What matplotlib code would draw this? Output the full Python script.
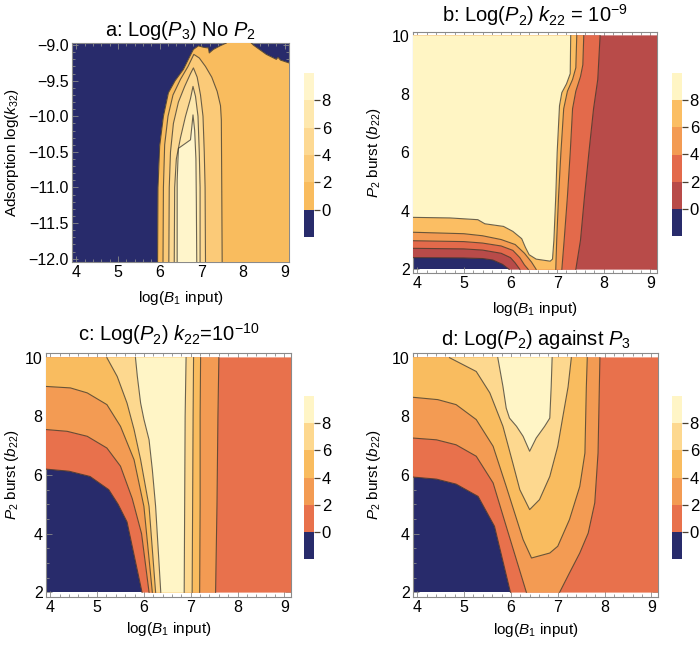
import matplotlib
matplotlib.use('Agg')
import matplotlib.pyplot as plt
from matplotlib.colors import ListedColormap, BoundaryNorm
from matplotlib.cm import ScalarMappable
from matplotlib.ticker import MultipleLocator, FixedLocator, FuncFormatter

plt.rcParams['font.family'] = ['Liberation Sans', 'DejaVu Sans']
plt.rcParams['mathtext.fontset'] = 'custom'
plt.rcParams['mathtext.rm'] = 'Liberation Sans'
plt.rcParams['mathtext.it'] = 'Liberation Sans:italic'
plt.rcParams['mathtext.bf'] = 'Liberation Sans:bold'

# ---------------- data: contour levels and colours ----------------
levels = [-2, 0, 2, 4, 6, 8, 10]
cbar_ticks = [0, 2, 4, 6, 8]
NAVY = '#282b6b'
colors_a = [NAVY, '#f9bc5e', '#fbca78', '#fdd993', '#fee8ae', '#fff5cb']
colors_b = [NAVY, '#b84b49', '#e36a4b', '#f39b53', '#fbbe63', '#fff5c4']
colors_c = [NAVY, '#e8714c', '#f39b53', '#f9bc5f', '#fdd88f', '#fff5c6']
colors_d = [NAVY, '#e8714c', '#f39b53', '#f9bc5f', '#fdd88f', '#fff5c6']

# ---------------- panel a: log(B1) vs log(k32) -------------------
a_c0l_x = [5.95, 5.96, 6.00, 6.09, 6.21, 6.37, 6.57, 6.73, 6.81, 6.93, 7.05, 7.17, 7.19, 7.29, 7.45, 7.60]
a_c0l_y = [-12.05, -11.0, -10.42, -10.0, -9.67, -9.50, -9.34, -9.15, -9.06, -9.01, -9.03, -9.04, -9.11, -9.06, -9.01, -8.97]
a_c0r_x = [8.20, 8.25, 8.56, 8.80, 8.84, 8.90, 9.104]
a_c0r_y = [-8.97, -9.00, -9.13, -9.20, -9.17, -9.21, -9.25]
a_c2_x = [6.08, 6.09, 6.12, 6.20, 6.32, 6.50, 6.68, 6.82, 6.95, 7.10, 7.25, 7.38, 7.46, 7.48, 7.49, 7.50]
a_c2_y = [-12.05, -11.0, -10.4, -10.0, -9.70, -9.48, -9.30, -9.13, -9.18, -9.30, -9.45, -9.65, -9.85, -10.05, -11.0, -12.05]
a_c4_x = [6.22, 6.23, 6.26, 6.33, 6.45, 6.60, 6.74, 6.81, 6.90, 6.98, 7.04, 7.07, 7.09, 7.10]
a_c4_y = [-12.05, -11.0, -10.5, -10.1, -9.80, -9.58, -9.40, -9.32, -9.45, -9.70, -10.0, -10.5, -11.0, -12.05]
a_c6_x = [6.35, 6.36, 6.40, 6.50, 6.62, 6.74, 6.80, 6.86, 6.92, 6.95, 6.97, 6.97]
a_c6_y = [-12.05, -11.0, -10.6, -10.3, -10.0, -9.75, -9.58, -9.72, -10.0, -10.5, -11.0, -12.05]
a_c8_x = [6.42, 6.42, 6.45, 6.62, 6.74, 6.78, 6.80, 6.84, 6.87, 6.88, 6.89]
a_c8_y = [-12.05, -10.9, -10.45, -10.38, -10.33, -10.10, -9.98, -10.2, -10.6, -11.2, -12.05]

# ---------------- panel b: k22 = 1e-9 ----------------------------
b_c0_x = [3.91, 5.00, 5.40, 5.62, 5.83, 5.97]
b_c0_y = [2.40, 2.39, 2.37, 2.32, 2.17, 2.00]
b_c2_x = [3.91, 5.00, 5.40, 5.80, 6.00, 6.10, 6.20]
b_c2_y = [2.72, 2.70, 2.66, 2.55, 2.40, 2.22, 2.00]
b_c4_x = [3.91, 5.00, 5.40, 5.80, 6.05, 6.20, 6.30, 6.38]
b_c4_y = [2.98, 2.95, 2.90, 2.80, 2.65, 2.40, 2.15, 2.00]
b_c6_x = [3.91, 5.00, 5.40, 5.80, 6.10, 6.30, 6.45, 6.55]
b_c6_y = [3.27, 3.22, 3.15, 3.02, 2.85, 2.55, 2.25, 2.00]
b_c8_x = [3.91, 4.70, 5.30, 5.45, 5.85, 6.05, 6.24, 6.32, 6.40, 6.55, 6.85, 6.90, 6.93, 6.97, 7.00, 7.05, 7.10, 7.20, 7.28, 7.29]
b_c8_y = [3.78, 3.76, 3.70, 3.56, 3.47, 3.30, 3.05, 2.75, 2.50, 2.35, 2.28, 2.35, 3.00, 4.50, 6.00, 7.60, 8.05, 8.35, 8.70, 10.0]
b_c6r_x = [6.97, 6.99, 7.03, 7.08, 7.14, 7.22, 7.33, 7.40, 7.42]
b_c6r_y = [2.0, 3.0, 4.5, 6.0, 7.5, 8.1, 8.5, 8.9, 10.0]
b_c4r_x = [7.10, 7.15, 7.22, 7.28, 7.33, 7.40, 7.50, 7.55, 7.57]
b_c4r_y = [2.0, 3.0, 4.5, 6.0, 7.5, 8.1, 8.6, 9.0, 10.0]
b_c2r_x = [7.40, 7.50, 7.58, 7.68, 7.78, 7.87, 7.92]
b_c2r_y = [2.0, 3.0, 4.4, 6.0, 7.5, 8.5, 10.0]

# ---------------- panel c: k22 = 1e-10 ---------------------------
c_c0_x = [3.91, 4.40, 4.85, 5.25, 5.45, 5.64, 5.96]
c_c0_y = [6.20, 6.13, 5.95, 5.50, 5.00, 4.40, 2.00]
c_c2_x = [3.91, 4.36, 4.79, 5.21, 5.50, 5.75, 5.95, 6.11]
c_c2_y = [7.55, 7.49, 7.32, 6.92, 6.30, 5.20, 4.00, 2.00]
c_c4_x = [3.91, 4.43, 4.79, 5.21, 5.50, 5.79, 6.00, 6.18]
c_c4_y = [9.02, 8.97, 8.80, 8.40, 7.66, 6.52, 4.93, 2.00]
c_c6_x = [5.21, 5.43, 5.64, 5.79, 5.93, 6.11, 6.25]
c_c6_y = [10.0, 9.36, 8.45, 7.55, 6.52, 4.93, 2.00]
c_c8_x = [5.82, 5.86, 5.93, 6.00, 6.11, 6.18, 6.25, 6.36]
c_c8_y = [10.0, 9.36, 8.45, 7.90, 7.20, 6.18, 4.93, 2.00]
c_c8r_x = [6.86, 6.87, 6.88, 6.90]
c_c8r_y = [2.0, 5.0, 8.0, 10.0]
c_c6r_x = [7.03, 7.04, 7.05, 7.06]
c_c6r_y = [2.0, 5.0, 8.0, 10.0]
c_c4r_x = [7.19, 7.20, 7.20, 7.21]
c_c4r_y = [2.0, 5.0, 8.0, 10.0]
c_c2r_x = [7.53, 7.56, 7.58, 7.60]
c_c2r_y = [2.0, 5.0, 8.0, 10.0]

# ---------------- panel d: against P3 ----------------------------
d_c0_x = [3.91, 4.41, 4.83, 5.30, 5.65, 5.99]
d_c0_y = [5.93, 5.86, 5.69, 5.27, 4.25, 2.00]
d_c2_x = [3.91, 4.41, 4.83, 5.26, 5.62, 5.90, 6.33]
d_c2_y = [7.26, 7.20, 7.03, 6.64, 5.73, 4.25, 2.00]
d_c2r_x = [7.04, 7.25, 7.47, 7.65, 7.79, 7.86, 7.90]
d_c2r_y = [2.00, 2.66, 3.34, 4.02, 5.05, 6.75, 10.0]
d_c4_x = [3.91, 4.44, 4.83, 5.26, 5.62, 5.90, 6.26, 6.44, 6.83, 7.00, 7.25, 7.47, 7.58, 7.61, 7.63]
d_c4_y = [8.65, 8.57, 8.40, 7.89, 6.98, 5.61, 3.80, 3.17, 3.34, 3.57, 4.48, 5.61, 6.75, 9.00, 10.0]
d_c6_x = [4.69, 5.26, 5.55, 5.83, 6.04, 6.19, 6.40, 6.61, 6.83, 7.00, 7.11, 7.22, 7.29]
d_c6_y = [10.0, 9.53, 8.80, 7.66, 6.41, 5.50, 4.82, 5.16, 5.95, 6.98, 8.00, 9.00, 10.0]
d_c8_x = [5.72, 5.83, 5.90, 5.97, 6.12, 6.26, 6.40, 6.54, 6.72, 6.83, 6.86, 6.88]
d_c8_y = [10.0, 9.02, 8.28, 7.94, 7.66, 7.32, 6.81, 7.26, 7.66, 7.94, 9.02, 10.0]

titles = [r'a: Log($P_{\mathrm{3}}$) No $P_{\mathrm{2}}$',
          r'b: Log($P_{\mathrm{2}}$) $k_{\mathrm{22}}$ = 10$^{\mathrm{-9}}$',
          r'c: Log($P_{\mathrm{2}}$) $k_{\mathrm{22}}$=10$^{\mathrm{-10}}$',
          r'd: Log($P_{\mathrm{2}}$) against $P_{\mathrm{3}}$']
xlabel = r'log($B_{\mathrm{1}}$ input)'
ylabel_a = r'Adsorption log($k_{\mathrm{32}}$)'
ylabel_b = r'$P_{\mathrm{2}}$ burst ($b_{\mathrm{22}}$)'
x_ticks = [4, 5, 6, 7, 8, 9]
y_ticks_a = [-12.0, -11.5, -11.0, -10.5, -10.0, -9.5, -9.0]
y_ticks_b = [2, 4, 6, 8, 10]

# ---------------- figure ----------------------------------------
fig = plt.figure(figsize=(7.0, 6.45), dpi=100)
W, H = 700.0, 645.0


def rect(l, t, r, b):
    return [l / W, 1 - b / H, (r - l) / W, (b - t) / H]


FRAME = '#8a8a8a'
LINE = '#3a352c'
LABEL_FS = 11.0
TITLE_FS = 14.5


def style_axes(ax, xlim, ylim, yticks, yminor, yfmt):
    ax.set_xlim(*xlim)
    ax.set_ylim(*ylim)
    ax.xaxis.set_major_locator(FixedLocator(x_ticks))
    ax.xaxis.set_minor_locator(MultipleLocator(0.2))
    ax.yaxis.set_major_locator(FixedLocator(yticks))
    ax.yaxis.set_minor_locator(MultipleLocator(yminor))
    ax.yaxis.set_major_formatter(FuncFormatter(yfmt))
    ax.xaxis.set_major_formatter(FuncFormatter(lambda v, p: '%d' % round(v)))
    ax.tick_params(which='both', direction='in', top=True, right=True,
                   color=FRAME, width=0.6, labelsize=11.5, labelcolor='black')
    ax.tick_params(which='major', length=4.0, pad=2.5)
    ax.tick_params(which='minor', length=2.0)
    for s in ax.spines.values():
        s.set_color(FRAME)
        s.set_linewidth(0.8)


def draw_panel(ax, colors, lines, fills, box):
    xlo, xhi, ylo, yhi = box
    corners = {'TL': (xlo, yhi), 'TR': (xhi, yhi), 'BR': (xhi, ylo), 'BL': (xlo, ylo)}
    ax.fill([xlo, xhi, xhi, xlo], [ylo, ylo, yhi, yhi], color=colors[0], lw=0, zorder=1)
    for idx, names, extra in fills:
        xs, ys = [], []
        for n in names:
            xs += list(lines[n][0])
            ys += list(lines[n][1])
        for e in extra:
            xs.append(corners[e][0])
            ys.append(corners[e][1])
        ax.fill(xs, ys, color=colors[idx], lw=0.3, ec=colors[idx], zorder=2 + idx)
    for n, (lx, ly) in lines.items():
        ax.plot(lx, ly, color=LINE, lw=0.8, alpha=0.75, zorder=20, solid_joinstyle='round')


def add_cbar(crect, colors):
    cax = fig.add_axes(crect)
    cmap = ListedColormap(colors)
    norm = BoundaryNorm(levels, cmap.N)
    cb = fig.colorbar(ScalarMappable(norm=norm, cmap=cmap), cax=cax, ticks=cbar_ticks)
    cb.minorticks_off()
    cb.outline.set_visible(False)
    cb.ax.set_yticklabels([str(t) for t in cbar_ticks])
    cax.tick_params(which='major', length=4, width=0.9, color='#4a4030', labelsize=12, pad=1.5)
    cax.tick_params(which='minor', length=0)
    return cb


def fmt1(v, p):
    return ('%.1f' % v).replace('-', '\u2212')


def fmt0(v, p):
    return '%d' % round(v)


# panel a
ax = fig.add_axes(rect(72, 43, 289, 262))
style_axes(ax, (3.896, 9.104), (-12.047, -8.97), y_ticks_a, 0.1, fmt1)
lines_a = {'c0l': (a_c0l_x, a_c0l_y), 'c0r': (a_c0r_x, a_c0r_y), 'c2': (a_c2_x, a_c2_y),
           'c4': (a_c4_x, a_c4_y), 'c6': (a_c6_x, a_c6_y), 'c8': (a_c8_x, a_c8_y)}
fills_a = [(1, ['c0l', 'c0r'], ['BR']), (2, ['c2'], []), (3, ['c4'], []),
           (4, ['c6'], []), (5, ['c8'], [])]
draw_panel(ax, colors_a, lines_a, fills_a, (3.896, 9.104, -12.05, -8.97))
ax.set_title(titles[0], fontsize=TITLE_FS, pad=5)
ax.set_xlabel(xlabel, fontsize=LABEL_FS)
ax.set_ylabel(ylabel_a, fontsize=LABEL_FS)
ax.xaxis.set_label_coords(0.5, -0.125)
ax.yaxis.set_label_coords(-0.236, 0.5)
add_cbar(rect(304, 73, 314, 237), colors_a)

box_bcd = (3.91, 9.14, 2.0, 10.0)

# panel b
ax = fig.add_axes(rect(413, 32, 657, 273))
style_axes(ax, (3.91, 9.14), (1.875, 10.125), y_ticks_b, 0.5, fmt0)
lines_b = {'c0': (b_c0_x, b_c0_y), 'c2': (b_c2_x, b_c2_y), 'c4': (b_c4_x, b_c4_y),
           'c6': (b_c6_x, b_c6_y), 'c8': (b_c8_x, b_c8_y), 'c6r': (b_c6r_x, b_c6r_y),
           'c4r': (b_c4r_x, b_c4r_y), 'c2r': (b_c2r_x, b_c2r_y)}
fills_b = [(1, ['c0'], ['BR', 'TR', 'TL']), (2, ['c2', 'c2r'], ['TL']),
           (3, ['c4', 'c4r'], ['TL']), (4, ['c6', 'c6r'], ['TL']), (5, ['c8'], ['TL'])]
draw_panel(ax, colors_b, lines_b, fills_b, box_bcd)
ax.set_title(titles[1], fontsize=TITLE_FS, pad=7.5)
ax.set_xlabel(xlabel, fontsize=LABEL_FS)
ax.set_ylabel(ylabel_b, fontsize=LABEL_FS)
ax.xaxis.set_label_coords(0.5, -0.11)
ax.yaxis.set_label_coords(-0.123, 0.5)
add_cbar(rect(672, 73, 682, 236), colors_b)

# panel c
ax = fig.add_axes(rect(46, 353, 291, 597))
style_axes(ax, (3.91, 9.14), (1.84, 10.16), y_ticks_b, 0.5, fmt0)
lines_c = {'c0': (c_c0_x, c_c0_y), 'c2': (c_c2_x, c_c2_y), 'c4': (c_c4_x, c_c4_y),
           'c6': (c_c6_x, c_c6_y), 'c8': (c_c8_x, c_c8_y), 'c8r': (c_c8r_x, c_c8r_y),
           'c6r': (c_c6r_x, c_c6r_y), 'c4r': (c_c4r_x, c_c4r_y), 'c2r': (c_c2r_x, c_c2r_y)}
fills_c = [(1, ['c0'], ['BR', 'TR', 'TL']), (2, ['c2', 'c2r'], ['TL']),
           (3, ['c4', 'c4r'], ['TL']), (4, ['c6', 'c6r'], []), (5, ['c8', 'c8r'], [])]
draw_panel(ax, colors_c, lines_c, fills_c, box_bcd)
ax.set_title(titles[2], fontsize=TITLE_FS, pad=8.5)
ax.set_xlabel(xlabel, fontsize=LABEL_FS)
ax.set_ylabel(ylabel_b, fontsize=LABEL_FS)
ax.xaxis.set_label_coords(0.5, -0.095)
ax.yaxis.set_label_coords(-0.104, 0.5)
add_cbar(rect(304, 396, 314, 559), colors_c)

# panel d
ax = fig.add_axes(rect(413, 353, 658, 597))
style_axes(ax, (3.91, 9.14), (1.84, 10.16), y_ticks_b, 0.5, fmt0)
lines_d = {'c0': (d_c0_x, d_c0_y), 'c2': (d_c2_x, d_c2_y), 'c2r': (d_c2r_x, d_c2r_y),
           'c4': (d_c4_x, d_c4_y), 'c6': (d_c6_x, d_c6_y), 'c8': (d_c8_x, d_c8_y)}
fills_d = [(1, ['c0'], ['BR', 'TR', 'TL']), (2, ['c2', 'c2r'], ['TL']),
           (3, ['c4'], ['TL']), (4, ['c6'], []), (5, ['c8'], [])]
draw_panel(ax, colors_d, lines_d, fills_d, box_bcd)
ax.set_title(titles[3], fontsize=TITLE_FS, pad=5.5)
ax.set_xlabel(xlabel, fontsize=LABEL_FS)
ax.set_ylabel(ylabel_b, fontsize=LABEL_FS)
ax.xaxis.set_label_coords(0.5, -0.10)
ax.yaxis.set_label_coords(-0.122, 0.5)
add_cbar(rect(672, 396, 682, 559), colors_d)

fig.savefig('out.png', dpi=100)
